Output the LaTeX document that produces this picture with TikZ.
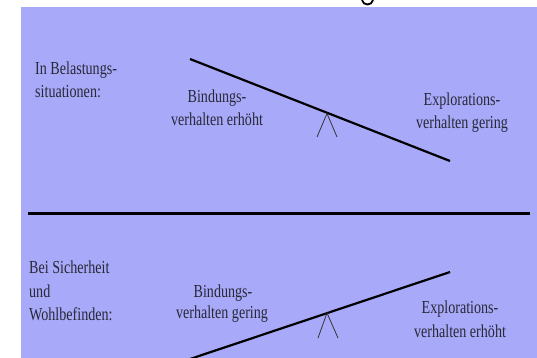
\documentclass[tikz,border=0pt]{standalone}
\usepackage{fontspec}
\newfontfamily\tf[FakeStretch=0.77]{Liberation Serif}
\definecolor{bgblue}{RGB}{168,170,249}
\definecolor{txt}{RGB}{40,40,55}
\begin{document}
\begin{tikzpicture}[x=1pt,y=-1pt,
  lbl/.style={inner sep=0pt,anchor=base west,font=\tf\fontsize{18.3}{20}\selectfont,text=txt},
  clbl/.style={inner sep=0pt,anchor=base,font=\tf\fontsize{18.3}{20}\selectfont,text=txt},
  beam/.style={line width=2.2pt,black},
  fulcrum/.style={line width=0.8pt,black!80},
  divider/.style={line width=3pt,black}]
\useasboundingbox (0,0) rectangle (537,358);
\fill[bgblue] (21,7) rectangle (537,358);
% cut-off descender at the top
\draw[line width=1.8pt,black] (362,0) .. controls (363,6) and (372,6) .. (373,0);

% ---- upper panel ----
\node[lbl] (t1) at (35,75) {In Belastungs-};
\node[lbl] (t2) at (35,98) {situationen:};
\node[clbl] (b1) at (217,103) {Bindungs-};
\node[clbl] (b2) at (217,126) {verhalten erhöht};
\node[clbl] (e1) at (462,106) {Explorations-};
\node[clbl] (e2) at (462,129) {verhalten gering};
\coordinate (ua) at (190,59);
\coordinate (ub) at (450,161);
\coordinate (up) at (327,113.5);
\coordinate (ul) at (317,137);
\coordinate (ur) at (337,137);
\draw[beam] (ua) -- (ub);
\draw[fulcrum] (ul) -- (up) -- (ur);

% ---- divider ----
\coordinate (d1) at (28,213);
\coordinate (d2) at (530,213);
\draw[divider] (d1) -- (d2);

% ---- lower panel ----
\node[lbl] (s1) at (29,273) {Bei Sicherheit};
\node[lbl] (s2) at (29,297) {und};
\node[lbl] (s3) at (29,320) {Wohlbefinden:};
\node[clbl] (c1) at (223,297) {Bindungs-};
\node[clbl] (c2) at (222,318) {verhalten gering};
\node[clbl] (f1) at (460,313) {Explorations-};
\node[clbl] (f2) at (460,337) {verhalten erhöht};
\coordinate (la) at (190,359);
\coordinate (lb) at (450,272);
\coordinate (lp) at (327,313);
\coordinate (ll) at (318,338);
\coordinate (lr) at (338,338);
\draw[beam] (la) -- (lb);
\draw[fulcrum] (ll) -- (lp) -- (lr);
\end{tikzpicture}
\end{document}
